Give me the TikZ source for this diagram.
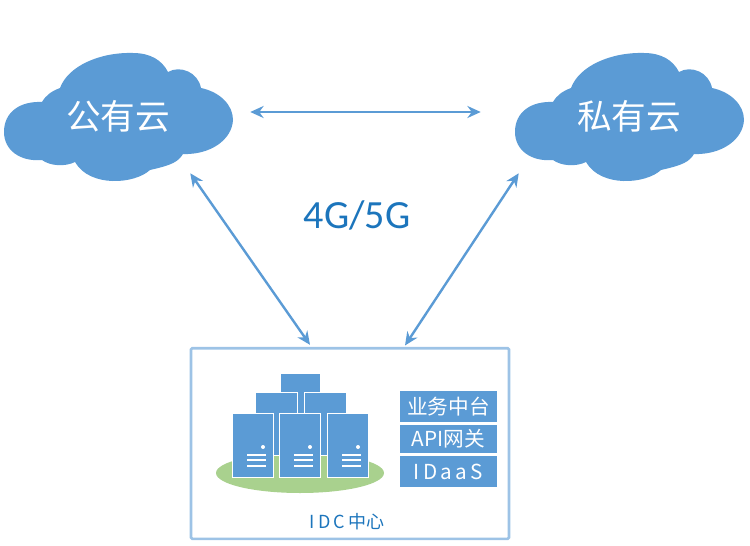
\documentclass[tikz,border=0pt]{standalone}
\usepackage{fontspec}
\usetikzlibrary{arrows.meta}
\newfontfamily\cjk{Noto Sans CJK SC}
\newfontfamily\lat{Carlito}
\definecolor{cloudblue}{HTML}{5B9BD5}
\definecolor{textblue}{HTML}{1C75BC}
\definecolor{frameblue}{HTML}{9DC3E6}
\definecolor{padgreen}{HTML}{A9D18E}
\tikzset{
  cloudshape/.pic={
    \fill[cloudblue] (4,132) .. controls (4,112) and (20,101) .. (42,102)
      .. controls (46,95) and (52,91) .. (60,88)
      .. controls (68,66) and (100,52) .. (133,53)
      .. controls (150,53) and (162,60) .. (168,72)
      .. controls (180,65) and (198,72) .. (201,88)
      .. controls (220,92) and (233,105) .. (233,120)
      .. controls (232,140) and (210,155) .. (183,154)
      .. controls (178,162) and (172,165) .. (150,170)
      .. controls (135,184) and (90,188) .. (75,162)
      .. controls (65,167) and (50,166) .. (42,160)
      .. controls (20,162) and (4,150) .. (4,132) -- cycle;
  },
  cloudlabel/.style={text=white,font=\cjk\fontsize{26}{28}\selectfont,minimum height=85.5pt,inner sep=0pt},
  unitbox/.style={draw=white,line width=0.8pt,fill=cloudblue,inner sep=0pt,anchor=north west},
  stackbox/.style={fill=cloudblue,text=white,minimum width=72.75pt,inner sep=0pt,font=\cjk\fontsize{15.5}{17}\selectfont}
}
\begin{document}
\begin{tikzpicture}[x=0.75pt,y=-0.75pt]
  \useasboundingbox (0,0) rectangle (750,546);
  \pic at (0,0) {cloudshape};
  \pic at (511,0) {cloudshape};
  \node[cloudlabel,minimum width=108pt] (pubcloud) at (118,116) {公有云};
  \node[cloudlabel,minimum width=165pt] (privcloud) at (629,116) {私有云};
  \node[draw=frameblue,line width=2pt,rounded corners=1pt,minimum width=238.5pt,minimum height=143pt,inner sep=0pt] (idc) at (350,443.5) {};
  \node[text=textblue,font=\lat\fontsize{30}{32}\selectfont] (net) at (357,215) {4G/5G};
  \node[text=textblue,font=\cjk\fontsize{13.5}{15}\selectfont] (idclabel) at (347,522) {I\,D\,C\,中心};
  \fill[padgreen] (300,473) ellipse (84 and 20);
  % back row of the rack
  \node[unitbox,minimum width=30pt,minimum height=62pt] (top) at (280,373) {};
  \node[unitbox,minimum width=31.5pt,minimum height=47.5pt] (backa) at (255,392) {};
  \node[unitbox,minimum width=31.5pt,minimum height=47.5pt] (backb) at (304,392) {};
  % front row
  \foreach \x/\n in {232/fronta,279/frontb,327/frontc} {
    \node[unitbox,minimum width=30.5pt,minimum height=48pt] (\n) at (\x,413) {};
    \fill[white] (\x+31,447) circle (2);
    \foreach \y in {455,460,466}
      \draw[white,line width=0.8pt] (\x+15,\y) -- (\x+34,\y);
  }
  \begin{scope}[every node/.style={stackbox}]
    \node[minimum height=23pt] (midbox) at (448.5,406.5) {业务中台};
    \node[minimum height=21pt] (apibox) at (448.5,439) {API网关};
    \node[minimum height=23pt] (idbox) at (448.5,471.5) {I\,D\,a\,a\,S};
  \end{scope}
  \begin{scope}[every edge/.style={draw=cloudblue,line width=1.8pt,{Stealth[length=10pt,width=9pt]}-{Stealth[length=10pt,width=9pt]}}]
    \path ([yshift=3pt]pubcloud.east) edge[shorten <=45pt,shorten >=28.5pt] ([yshift=3pt]privcloud.west);
    \path (pubcloud.south east) edge ([xshift=-30pt,yshift=1.5pt]idc.north);
    \path (privcloud.south west) edge ([xshift=41.25pt,yshift=1pt]idc.north);
  \end{scope}
\end{tikzpicture}
\end{document}
